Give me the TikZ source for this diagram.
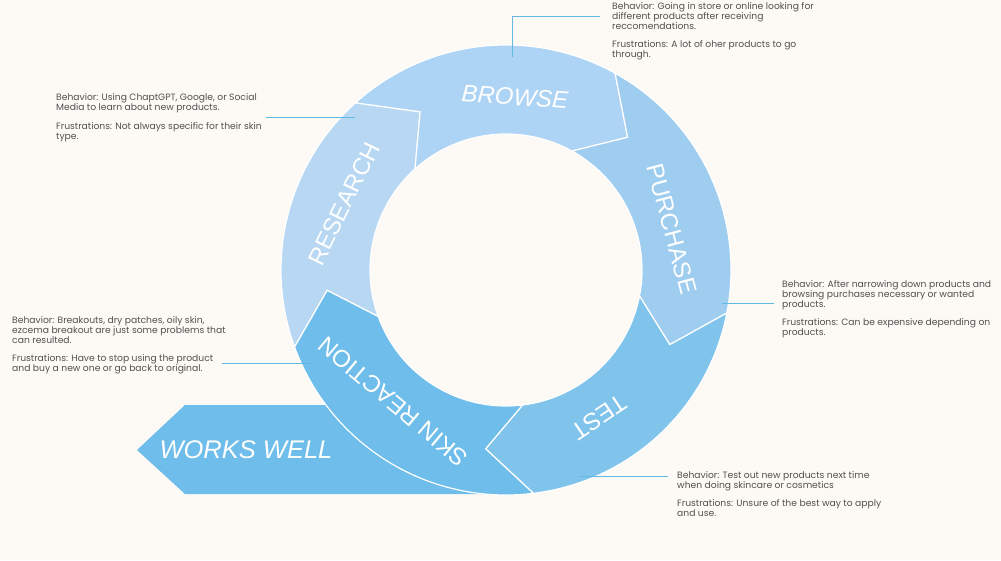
\documentclass[tikz,border=0pt]{standalone}
\usepackage{fontspec}
\setmainfont{Poppins}
\newfontfamily\labelfont{Liberation Sans}
\definecolor{bg}{HTML}{FDFAF5}
\definecolor{cres}{HTML}{B7D7F2}
\definecolor{cbro}{HTML}{ADD4F4}
\definecolor{cpur}{HTML}{9FCDF0}
\definecolor{ctes}{HTML}{80C4EC}
\definecolor{cski}{HTML}{6FBDEA}
\definecolor{leadc}{HTML}{62B8E3}
\definecolor{txt}{HTML}{505050}
\newcommand\ringpart[3]{%
  \fill[#1, draw=white, line width=1.2pt, line join=miter]
    (#2:225pt) arc[start angle=#2, end angle=#3, radius=225pt]
    -- ({#3-13.5}:180pt) -- (#3:136pt)
    arc[start angle=#3, end angle=#2, radius=136pt]
    -- ({#2-13.5}:180pt) -- cycle;}
\tikzset{
  ringlabel/.style={text=white, font=\labelfont\fontsize{24}{24}\selectfont, inner sep=0pt},
  ringlabelit/.style={text=white, font=\labelfont\itshape\fontsize{24}{24}\selectfont, inner sep=0pt},
  infotext/.style={text=txt, font=\fontsize{9.2}{10}\selectfont, align=left, inner sep=0pt, anchor=north west},
  leader/.style={draw=leadc, line width=0.8pt}
}
\begin{document}
\begin{tikzpicture}[x=1pt,y=1pt]
\fill[bg] (0,0) rectangle (1001,560);
\useasboundingbox (0,0) rectangle (1001,560);
% works well arrow
\fill[cski] (137,110) -- (185,155) -- (440,155) -- (530,66) -- (185,66) -- cycle;
% ring
\begin{scope}[shift={(506,290)}]
\ringpart{cres}{200}{132}
\ringpart{cbro}{132}{61}
\ringpart{cpur}{61}{-11}
\ringpart{ctes}{-11}{-83}
\ringpart{cski}{-83}{-160}
\end{scope}
% ring labels
\node[ringlabelit, rotate=-4] (lbrowse) at (515,463) {BROWSE};
\node[ringlabel, rotate=64] (lresearch) at (344,356) {RESEARCH};
\node[ringlabel, rotate=-75] (lpurchase) at (672,331) {PURCHASE};
\node[ringlabel, rotate=-146] (ltest) at (599,143) {TEST};
\node[ringlabel, rotate=140] (lskin) at (393,158) {SKIN REACTION};
\node[ringlabelit, font=\labelfont\itshape\fontsize{25.5}{25.5}\selectfont] (lworks) at (246,110) {WORKS WELL};
% info texts
\node[infotext] (tbrowse) at (612,558) {Behavior: Going in store or online looking for\\different products after receiving\\reccomendations.\\[8pt]Frustrations: A lot of oher products to go\\through.};
\node[infotext] (tresearch) at (56,467) {Behavior: Using ChaptGPT, Google, or Social\\Media to learn about new products.\\[9pt]Frustrations: Not always specific for their skin\\type.};
\node[infotext] (tskin) at (12,244) {Behavior: Breakouts, dry patches, oily skin,\\ezcema breakout are just some problems that\\can resulted.\\[8pt]Frustrations: Have to stop using the product\\and buy a new one or go back to original.};
\node[infotext] (tpurchase) at (782,280) {Behavior: After narrowing down products and\\browsing purchases necessary or wanted\\products.\\[8pt]Frustrations: Can be expensive depending on\\products.};
\node[infotext] (ttest) at (677,89) {Behavior: Test out new products next time\\when doing skincare or cosmetics\\[8pt]Frustrations: Unsure of the best way to apply\\and use.};
% leader lines
\coordinate (bA) at (512,503);
\coordinate (bB) at (600,544);
\draw[leader] (bA) |- (bB);
\coordinate (rA) at (355,443);
\coordinate (rB) at (266,443);
\draw[leader] (rA) -- (rB);
\coordinate (sA) at (312,197);
\coordinate (sB) at (222,197);
\draw[leader] (sA) -- (sB);
\coordinate (pA) at (722,257);
\coordinate (pB) at (774,257);
\draw[leader] (pA) -- (pB);
\coordinate (eA) at (579,84);
\coordinate (eB) at (668,84);
\draw[leader] (eA) -- (eB);
\end{tikzpicture}
\end{document}
